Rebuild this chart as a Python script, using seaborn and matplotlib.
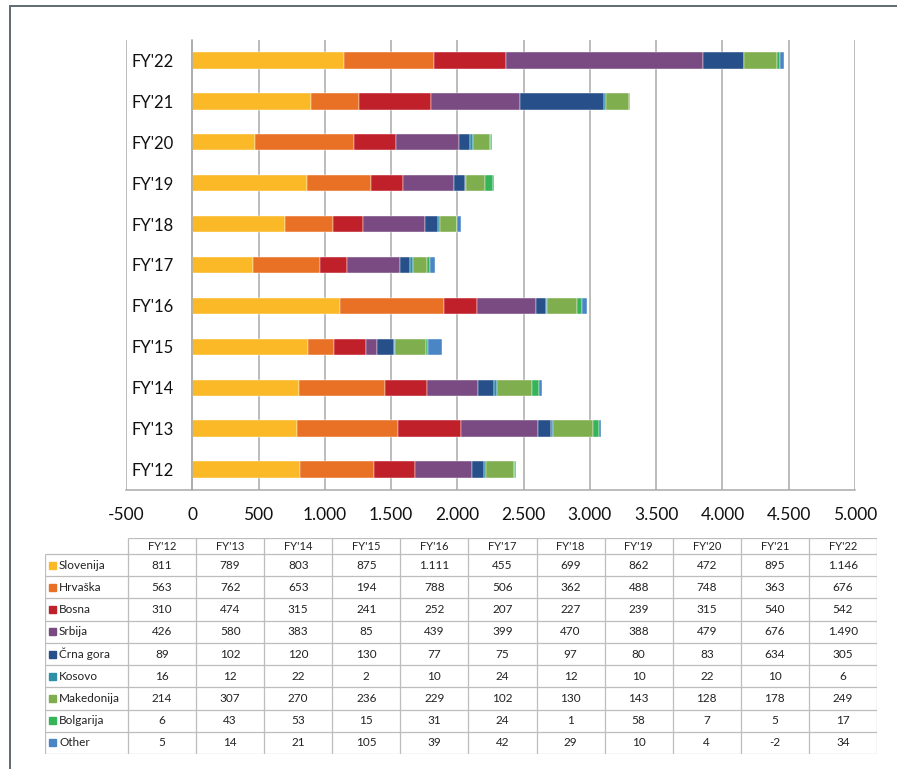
import numpy as np
import matplotlib
matplotlib.use("Agg")
import matplotlib.pyplot as plt
import matplotlib.patches as mpatches
import seaborn as sns

# Data
years = ["FY'12", "FY'13", "FY'14", "FY'15", "FY'16", "FY'17",
         "FY'18", "FY'19", "FY'20", "FY'21", "FY'22"]
slovenija = [811, 789, 803, 875, 1111, 455, 699, 862, 472, 895, 1146]
hrvaska = [563, 762, 653, 194, 788, 506, 362, 488, 748, 363, 676]
bosna = [310, 474, 315, 241, 252, 207, 227, 239, 315, 540, 542]
srbija = [426, 580, 383, 85, 439, 399, 470, 388, 479, 676, 1490]
crna_gora = [89, 102, 120, 130, 77, 75, 97, 80, 83, 634, 305]
kosovo = [16, 12, 22, 2, 10, 24, 12, 10, 22, 10, 6]
makedonija = [214, 307, 270, 236, 229, 102, 130, 143, 128, 178, 249]
bolgarija = [6, 43, 53, 15, 31, 24, 1, 58, 7, 5, 17]
other = [5, 14, 21, 105, 39, 42, 29, 10, 4, -2, 34]

series_names = ["Slovenija", "Hrvaška", "Bosna", "Srbija", "Črna gora",
                "Kosovo", "Makedonija", "Bolgarija", "Other"]
series_values = [slovenija, hrvaska, bosna, srbija, crna_gora,
                 kosovo, makedonija, bolgarija, other]
colors = ["#FBB927", "#E97125", "#C0202A", "#7A4A82", "#27508A",
          "#2E8FA8", "#7FAE4E", "#35B45A", "#4A86C5"]

x_ticks = list(range(-500, 5001, 500))

sns.set_style("white")
plt.rcParams["font.family"] = ["Lato", "DejaVu Sans"]

W, H = 897, 769
fig = plt.figure(figsize=(W / 100, H / 100), dpi=100)

# outer frame (only top and left edges are visible in the reference)
fig.add_artist(mpatches.Rectangle((10 / W, -0.2), 1.5, 1 - 6 / H + 0.2,
                                  transform=fig.transFigure, fill=False,
                                  edgecolor="#5F6A72", lw=1.4))

ax = fig.add_axes([126 / W, 1 - 490 / H, (855 - 126) / W, (490 - 40) / H])

# stacked horizontal bars, FY'22 on top
order = years[::-1]
left = np.zeros(len(years))
for name, vals, col in zip(series_names, series_values, colors):
    v = np.array(vals[::-1], dtype=float)
    sns.barplot(x=v, y=order, order=order, color=col, saturation=1,
                width=0.4, errorbar=None, left=left, ax=ax,
                edgecolor="white", linewidth=0.3)
    left = left + v

ax.set_xlim(-500, 5000)
ax.set_xticks(x_ticks)
ax.set_xticklabels([f"{t:,}".replace(",", ".") for t in x_ticks], fontsize=12.5)
ax.set_xlabel("")
ax.set_ylabel("")
ax.set_axisbelow(True)
ax.grid(axis="x", color="#A9A9A9", lw=1.1)

ax.spines["top"].set_visible(False)
ax.spines["right"].set_visible(False)
ax.spines["left"].set_position(("data", 0))
ax.spines["left"].set_color("#A9A9A9")
ax.spines["bottom"].set_color("#A9A9A9")
ax.spines["left"].set_linewidth(1.1)
ax.spines["bottom"].set_linewidth(1.1)

ax.tick_params(axis="x", length=0, pad=12, colors="#111111")
ax.tick_params(axis="y", which="major", length=0, pad=13, labelsize=12,
               colors="#111111")
ax.set_yticks(np.arange(-0.5, len(years), 1.0), minor=True)
ax.tick_params(axis="y", which="minor", direction="in", length=4.5,
               width=1, color="#A9A9A9")

# data table under the chart
tx0, tx1, ty0, ty1 = 45, 877, 538, 754
tab = fig.add_axes([tx0 / W, 1 - ty1 / H, (tx1 - tx0) / W, (ty1 - ty0) / H])
tw, th = tx1 - tx0, ty1 - ty0
tab.set_xlim(0, tw)
tab.set_ylim(th, 0)
tab.axis("off")

label_w = 83
col_w = (tw - label_w) / len(years)
head_h = 16
row_h = (th - head_h) / len(series_names)
line_kw = dict(color="#BDBDBD", lw=0.9)

tab.hlines(0, label_w, tw, **line_kw)
for i in range(len(series_names) + 1):
    tab.hlines(head_h + i * row_h, 0, tw, **line_kw)
tab.vlines(0, head_h, th, **line_kw)
for j in range(len(years) + 1):
    tab.vlines(label_w + j * col_w, 0, th, **line_kw)

for j, yr in enumerate(years):
    tab.text(label_w + (j + 0.5) * col_w, head_h / 2, yr, ha="center",
             va="center", fontsize=8, color="#222222")

for i, (name, vals, col) in enumerate(zip(series_names, series_values, colors)):
    yc = head_h + (i + 0.5) * row_h
    tab.add_patch(mpatches.Rectangle((4, yc - 3.5), 7, 7, color=col))
    tab.text(14, yc, name, ha="left", va="center", fontsize=8.5, color="#222222")
    for j, v in enumerate(vals):
        tab.text(label_w + (j + 0.5) * col_w, yc, f"{v:,}".replace(",", "."),
                 ha="center", va="center", fontsize=8.5, color="#222222")

fig.savefig("out.png", dpi=100)
